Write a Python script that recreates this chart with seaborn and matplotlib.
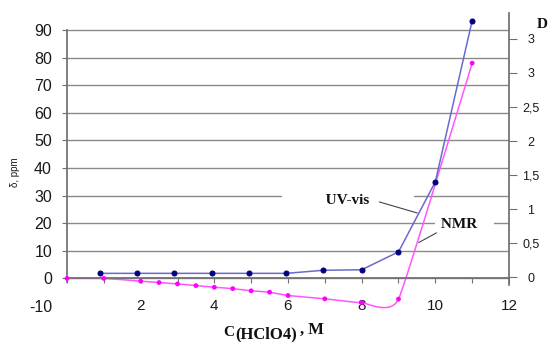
import matplotlib
matplotlib.use("Agg")
import matplotlib.pyplot as plt
import seaborn as sns
from matplotlib.path import Path
from matplotlib.patches import PathPatch

# ---- data ----
nmr_c = [0, 1, 2, 2.5, 3, 3.5, 4, 4.5, 5, 5.5, 6, 7, 8, 9, 11]
nmr_delta = [0, 0, -1.0, -1.5, -2.0, -2.6, -3.2, -3.7, -4.5, -5.0, -6.2, -7.4, -8.8, -7.5, 78.0]

uv_c = [0.9, 1.9, 2.9, 3.95, 4.95, 5.95, 6.95, 8, 9, 10, 11]
uv_d = [0.054, 0.054, 0.054, 0.054, 0.054, 0.054, 0.099, 0.107, 0.37, 1.40, 3.77]

left_ticks = [0, 10, 20, 30, 40, 50, 60, 70, 80, 90]
left_tick_labels = ["0", "10", "20", "30", "40", "50", "60", "70", "80", "90"]
right_ticks = [0, 0.5, 1, 1.5, 2, 2.5, 3, 3.5]
right_tick_labels = ["0", "0,5", "1", "1,5", "2", "2,5", "3", "3"]
x_ticks = list(range(0, 13))
x_tick_labels = ["", "", "2", "", "4", "", "6", "", "8", "", "10", "", "12"]

sns.set_theme(style="white")
plt.rcParams["font.family"] = ["Liberation Sans", "DejaVu Sans"]

W, H = 552, 342
fig = plt.figure(figsize=(W / 100, H / 100), dpi=100)
ax = fig.add_axes([67 / W, 1 - 306 / H, 442 / W, 293 / H])
ax.set_xlim(0, 12)
ax.set_ylim(-9.96, 96.16)

spine_col = "#707070"
lab_col = "#1a1a1a"

for s in ["top", "right"]:
    ax.spines[s].set_visible(False)
ax.spines["left"].set_bounds(-1.2, 90)
ax.spines["left"].set_color(spine_col)
ax.spines["bottom"].set_position(("data", 0))
ax.spines["bottom"].set_color(spine_col)

ax.set_xticks(x_ticks, x_tick_labels)
ax.tick_params(axis="x", which="major", bottom=True, direction="out", length=3.6,
               width=0.8, color=spine_col, pad=11.5, labelsize=11, labelcolor=lab_col)
ax.set_yticks(left_ticks, left_tick_labels)
ax.set_yticks([-10], ["-10"], minor=True)
ax.tick_params(axis="y", which="major", left=True, direction="out", length=3.6,
               width=0.8, color=spine_col, pad=7.2, labelsize=11.5, labelcolor=lab_col)
ax.tick_params(axis="y", which="minor", left=True, length=0, pad=10.8,
               labelsize=11.5, labelcolor=lab_col)
ax.grid(axis="y", which="major", color="#8a8a8a", lw=1.0)
ax.set_axisbelow(True)

# ---- NMR series: smoothed (Excel-like Bezier) line through the data points ----
pts = list(zip(nmr_c, nmr_delta))
n = len(pts)
f = 0.07
verts = [pts[0]]
codes = [Path.MOVETO]
for i in range(n - 1):
    p0 = pts[i - 1] if i > 0 else pts[i]
    p1 = pts[i]
    p2 = pts[i + 1]
    p3 = pts[i + 2] if i + 2 < n else pts[i + 1]
    c1 = (p1[0] + f * (p2[0] - p0[0]), p1[1] + f * (p2[1] - p0[1]))
    c2 = (p2[0] - f * (p3[0] - p1[0]), p2[1] - f * (p3[1] - p1[1]))
    verts += [c1, c2, p2]
    codes += [Path.CURVE4, Path.CURVE4, Path.CURVE4]
ax.add_patch(PathPatch(Path(verts, codes), fill=False, ec="#ff55ff", lw=1.1,
                       clip_on=False, zorder=2))
sns.scatterplot(x=nmr_c, y=nmr_delta, ax=ax, color="#ff00ff", s=12,
                edgecolor="none", zorder=3, clip_on=False)

# ---- UV-vis series on right axis ----
ax2 = ax.twinx()
ax2.set_ylim(-0.426, 3.882)
for s in ["top", "left", "bottom"]:
    ax2.spines[s].set_visible(False)
ax2.spines["right"].set_bounds(-0.12, 3.882)
ax2.spines["right"].set_color(spine_col)
ax2.set_yticks(right_ticks, right_tick_labels)
ax2.tick_params(axis="y", right=True, direction="out", length=5.8, width=0.8,
                color=spine_col, pad=10, labelsize=9, labelcolor=lab_col)
for lbl in ax2.get_yticklabels():
    lbl.set_ha("center")
ax2.grid(False)
sns.lineplot(x=uv_c, y=uv_d, ax=ax2, color="#6a6acc", lw=1.1, marker="o",
             markersize=3.6, markerfacecolor="#000080", markeredgecolor="#000080")
ax2.set_ylabel("")
ax2.set_xlabel("")

# ---- annotations ----
serif = ["Liberation Serif", "DejaVu Serif"]
ax.text(7.62, 28.4, "           UV-vis           ", ha="center", va="center",
        fontsize=11, fontweight="bold", family=serif, color="#111",
        bbox=dict(boxstyle="square,pad=0.1", fc="white", ec="none"), zorder=4)
ax.text(10.80, 19.4, " NMR    ", ha="center", va="center",
        fontsize=11, fontweight="bold", family=serif, color="#111",
        bbox=dict(boxstyle="square,pad=0.1", fc="white", ec="none"), zorder=4)
ax.annotate("", xy=(9.51, 23.7), xytext=(8.48, 27.7),
            arrowprops=dict(arrowstyle="-", color="#444", lw=0.8, shrinkA=0, shrinkB=0),
            zorder=6)
ax.annotate("", xy=(9.55, 13.0), xytext=(10.03, 16.5),
            arrowprops=dict(arrowstyle="-", color="#444", lw=0.8, shrinkA=0, shrinkB=0),
            zorder=6)

# ---- axis titles ----
fig.text(15 / W, 1 - 172 / H, "δ, ppm", rotation=90, fontsize=7, ha="center",
         va="center", color=lab_col)
fig.text(542 / W, 1 - 25 / H, "D", family=serif, fontweight="bold", fontsize=11,
         ha="center", va="center", color="#111")
fig.text(223 / W, 1 - 336 / H, "C", family=serif, fontweight="bold", fontsize=11,
         ha="left", va="baseline", color="#111")
fig.text(235 / W, 1 - 338 / H, "(HClO4)", family=serif, fontweight="bold", fontsize=12,
         ha="left", va="baseline", color="#111")
fig.text(300 / W, 1 - 334 / H, ", M", family=serif, fontweight="bold", fontsize=12,
         ha="left", va="baseline", color="#111")

fig.savefig("out.png", dpi=100, facecolor="white")
